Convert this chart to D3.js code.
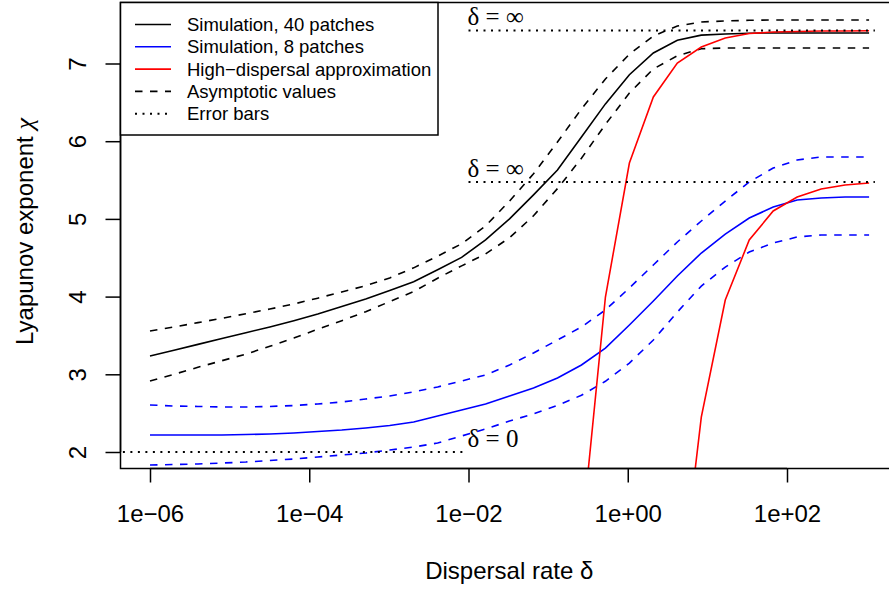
<!DOCTYPE html>
<html>
<head>
<meta charset="utf-8">
<script src="https://cdn.jsdelivr.net/npm/d3@7"></script>
<style>
  body { margin: 0; background: #fff; }
  svg { display: block; }
  text { font-family: "Liberation Sans", Arial, sans-serif; fill: #000; }
  .math { font-family: "Liberation Serif", "DejaVu Serif", serif; }
</style>
</head>
<body>
<div id="chart"></div>
<script>
// dispersal rates (doubling steps from 1e-6)
const delta = [1e-6, 2e-6, 4e-6, 8e-6, 1.6e-5, 3.2e-5, 6.4e-5, 1.28e-4, 2.56e-4, 5.12e-4,
  1.024e-3, 2.048e-3, 4.096e-3, 8.192e-3, 1.6384e-2, 3.2768e-2, 6.5536e-2, 0.131072, 0.262144, 0.524288,
  1.048576, 2.097152, 4.194304, 8.388608, 16.777216, 33.554432, 67.108864, 134.217728, 268.435456, 536.870912,
  1073.741824]

// simulation, 40 patches (mean and asymptotic bounds)
const sim40 = [3.236, 3.31, 3.385, 3.46, 3.535, 3.61, 3.69, 3.776, 3.873, 3.97,
  4.08, 4.19, 4.345, 4.505, 4.73, 5.0, 5.31, 5.63, 6.055, 6.48,
  6.855, 7.135, 7.30, 7.365, 7.38, 7.39, 7.393, 7.393, 7.393, 7.393, 7.393]
const upper40 = [3.557, 3.609, 3.665, 3.72, 3.78, 3.84, 3.905, 3.98, 4.06, 4.14,
  4.24, 4.37, 4.52, 4.68, 4.91, 5.23, 5.58, 5.99, 6.415, 6.80,
  7.12, 7.354, 7.483, 7.535, 7.547, 7.556, 7.56, 7.56, 7.56, 7.56, 7.56]
const lower40 = [2.914, 3.0, 3.09, 3.175, 3.26, 3.36, 3.466, 3.58, 3.69, 3.805,
  3.936, 4.065, 4.237, 4.395, 4.55, 4.757, 5.04, 5.39, 5.78, 6.216,
  6.62, 6.93, 7.10, 7.19, 7.20, 7.20, 7.20, 7.20, 7.20, 7.20, 7.20]

// simulation, 8 patches
const sim8 = [2.219, 2.219, 2.219, 2.219, 2.225, 2.232, 2.245, 2.264, 2.283, 2.309,
  2.341, 2.386, 2.463, 2.541, 2.618, 2.721, 2.824, 2.952, 3.12, 3.338,
  3.634, 3.943, 4.265, 4.561, 4.805, 5.011, 5.153, 5.243, 5.269, 5.281, 5.281]
const upper8 = [2.605, 2.592, 2.586, 2.579, 2.579, 2.586, 2.598, 2.618, 2.644, 2.682,
  2.721, 2.773, 2.837, 2.914, 2.992, 3.12, 3.274, 3.442, 3.609, 3.828,
  4.111, 4.407, 4.703, 4.973, 5.23, 5.475, 5.655, 5.758, 5.797, 5.797, 5.797]
const lower8 = [1.833, 1.839, 1.846, 1.858, 1.871, 1.891, 1.91, 1.936, 1.961, 1.987,
  2.026, 2.064, 2.116, 2.206, 2.296, 2.399, 2.49, 2.60, 2.73, 2.91,
  3.145, 3.441, 3.801, 4.135, 4.38, 4.573, 4.69, 4.767, 4.793, 4.793, 4.793]

// high-dispersal approximation (null = not defined)
const approx40 = [null, null, null, null, null, null, null, null, null, null,
  null, null, null, null, null, null, null, null, 0.89, 3.995,
  5.719, 6.569, 7.006, 7.212, 7.328, 7.386, 7.405, 7.412, 7.418, 7.418, 7.422]
const approx8 = [null, null, null, null, null, null, null, null, null, null,
  null, null, null, null, null, null, null, null, null, null,
  null, null, -0.18, 2.45, 3.956, 4.728, 5.102, 5.282, 5.385, 5.436, 5.462]

// error bar levels: value, from, to, label
const refValues = [7.425, 5.475, 2.0]
const refFrom = [1e-2, 1e-2, 1e-7]
const refTo = [1270, 1270, 9e-3]
const refLabels = ['\u03b4 = \u221e', '\u03b4 = \u221e', '\u03b4 = 0']

const xTicks = [1e-6, 1e-4, 1e-2, 1, 100]
const xTickLabels = ['1e\u221206', '1e\u221204', '1e\u221202', '1e+00', '1e+02']
const yTicks = [2, 3, 4, 5, 6, 7]

const legendLabels = ['Simulation, 40 patches', 'Simulation, 8 patches', 'High\u2212dispersal approximation', 'Asymptotic values', 'Error bars']
const legendColors = ['#000', '#0000ff', '#ff0000', '#000', '#000']
const legendDash = [null, null, null, 'dash', 'dot']

// dimensions
const w = 889
const h = 592
const pleft = 120.5
const pright = 898
const ptop = 2.5
const pbtm = 468.5
const lw = 1.6
const dashes = { dash: '7.5,7.5', dot: '2,5.5' }

const svg = d3.select('#chart')
  .append('svg')
  .attr('width', w)
  .attr('height', h)

const x = d3.scaleLog().domain([1e-6, 1e2]).range([150, 787])
const y = d3.scaleLinear().domain([2, 7]).range([452, 63.5])

svg.append('clipPath')
  .attr('id', 'plotclip')
  .append('rect')
  .attr('x', pleft).attr('y', ptop)
  .attr('width', pright - pleft).attr('height', pbtm - ptop)

const plot = svg.append('g').attr('clip-path', 'url(#plotclip)')

const line = d3.line()
  .defined(d => d[1] != null)
  .x(d => x(d[0]))
  .y(d => y(d[1]))

const series = [
  { v: upper40, c: '#000', dash: 'dash' },
  { v: lower40, c: '#000', dash: 'dash' },
  { v: sim40, c: '#000', dash: null },
  { v: upper8, c: '#0000ff', dash: 'dash' },
  { v: lower8, c: '#0000ff', dash: 'dash' },
  { v: sim8, c: '#0000ff', dash: null },
  { v: approx40, c: '#ff0000', dash: null },
  { v: approx8, c: '#ff0000', dash: null }
]

series.forEach(s => {
  plot.append('path')
    .datum(delta.map((d, i) => [d, s.v[i]]))
    .attr('d', line)
    .attr('fill', 'none')
    .attr('stroke', s.c)
    .attr('stroke-width', lw)
    .attr('stroke-dasharray', s.dash ? dashes[s.dash] : null)
})

// error bars (dotted horizontal levels)
refValues.forEach((v, i) => {
  plot.append('path')
    .datum([[refFrom[i], v], [refTo[i], v]])
    .attr('d', line)
    .attr('stroke', '#000')
    .attr('stroke-width', 2)
    .attr('stroke-dasharray', dashes.dot)
})

svg.selectAll('.reflabel')
  .data(refValues)
  .enter()
  .append('text')
  .attr('class', 'math')
  .attr('x', x(1e-2) - 1)
  .attr('y', d => y(d) - 5)
  .attr('font-size', 25)
  .text((d, i) => refLabels[i])

// frame
svg.append('rect')
  .attr('x', pleft).attr('y', ptop)
  .attr('width', pright - pleft).attr('height', pbtm - ptop)
  .attr('fill', 'none')
  .attr('stroke', '#000')
  .attr('stroke-width', 1.5)

// x axis
const xAxis = d3.axisBottom(x)
  .tickValues(xTicks)
  .tickFormat((d, i) => xTickLabels[i])
  .tickSize(14)

const gx = svg.append('g')
  .attr('transform', `translate(0,${pbtm})`)
  .call(xAxis)
gx.select('.domain').attr('d', `M${x(xTicks[0])},0H${x(xTicks[xTicks.length - 1])}`).attr('stroke-width', 1.5)
gx.selectAll('.tick line').attr('stroke-width', 1.5)
gx.selectAll('.tick text')
  .attr('font-size', 24)
  .attr('font-family', '"Liberation Sans", Arial, sans-serif')
  .attr('fill', '#000')
  .attr('dy', null)
  .attr('y', 53)

// y axis
const yAxis = d3.axisLeft(y)
  .tickValues(yTicks)
  .tickFormat(d3.format('d'))
  .tickSize(15)

const gy = svg.append('g')
  .attr('transform', `translate(${pleft},0)`)
  .call(yAxis)
gy.select('.domain').attr('d', `M0,${y(2)}V${y(7)}`).attr('stroke-width', 1.5)
gy.selectAll('.tick line').attr('stroke-width', 1.5)
gy.selectAll('.tick text')
  .attr('font-size', 24)
  .attr('font-family', '"Liberation Sans", Arial, sans-serif')
  .attr('fill', '#000')
  .attr('x', null)
  .attr('dy', null)
  .attr('text-anchor', 'middle')
  .attr('transform', 'translate(-35,0) rotate(-90)')

// axis titles
svg.append('text')
  .attr('x', (pleft + pright) / 2)
  .attr('y', 579)
  .attr('text-anchor', 'middle')
  .attr('font-size', 24)
  .text('Dispersal rate \u03b4')

const ytitle = svg.append('text')
  .attr('transform', `translate(33,${(ptop + pbtm) / 2 - 4}) rotate(-90)`)
  .attr('text-anchor', 'middle')
  .attr('font-size', 24)
ytitle.append('tspan').text('Lyapunov exponent ')
ytitle.append('tspan')
  .attr('font-family', '"Liberation Serif", "DejaVu Serif", serif')
  .attr('font-style', 'italic')
  .attr('font-size', 26)
  .text('\u03c7')

// legend
const legend = svg.append('g')
legend.append('rect')
  .attr('x', pleft).attr('y', ptop)
  .attr('width', 438 - pleft).attr('height', 135 - ptop)
  .attr('fill', '#fff')
  .attr('stroke', '#000')
  .attr('stroke-width', 1.5)

legendLabels.forEach((lab, i) => {
  const by = 31 + i * 22.3
  legend.append('line')
    .attr('x1', 135).attr('x2', 171)
    .attr('y1', by - 6.5).attr('y2', by - 6.5)
    .attr('stroke', legendColors[i])
    .attr('stroke-width', legendDash[i] === 'dot' ? 2 : lw)
    .attr('stroke-dasharray', legendDash[i] ? dashes[legendDash[i]] : null)
  legend.append('text')
    .attr('x', 187)
    .attr('y', by)
    .attr('font-size', 18.5)
    .text(lab)
})
</script>
</body>
</html>
